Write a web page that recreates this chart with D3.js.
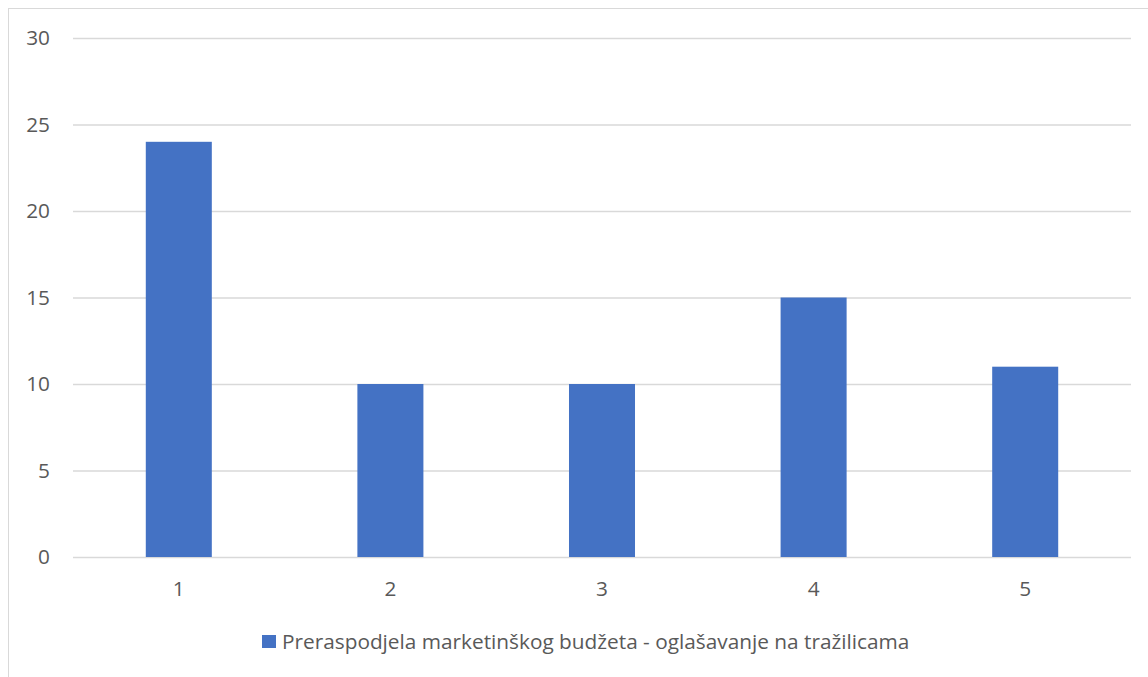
<!DOCTYPE html>
<html>
<head>
<meta charset="utf-8">
<script src="https://cdn.jsdelivr.net/npm/d3@7"></script>
<style>
  body { margin: 0; background: #fff; }
  svg text { font-family: 'Open Sans', sans-serif; fill: #595959; }
</style>
</head>
<body>
<div id="chart"></div>
<script>
// Data
const categories = ['1', '2', '3', '4', '5'];
const values = [24, 10, 10, 15, 11];
const yTicks = [0, 5, 10, 15, 20, 25, 30];
const seriesName = 'Preraspodjela marketinškog budžeta - oglašavanje na tražilicama';

const W = 1148, H = 677;
const plotLeft = 73, plotRight = 1131, plotTop = 38, plotBottom = 557;
const fontSize = '20.8px';

let svg = d3.select('#chart')
    .append('svg')
    .attr('width', W)
    .attr('height', H);

// Chart frame
svg.append('rect')
    .attr('x', 8.5).attr('y', 8.5)
    .attr('width', W).attr('height', H)
    .attr('fill', 'none')
    .attr('stroke', '#d9d9d9')
    .attr('stroke-width', 1);

let xScale = d3.scaleBand()
    .domain(categories)
    .range([plotLeft, plotRight])
    .paddingInner(0.688)
    .paddingOuter(0.344);

let yScale = d3.scaleLinear()
    .domain([0, 30])
    .range([plotBottom, plotTop]);

// Gridlines
svg.append('g')
    .attr('transform', `translate(${plotLeft},0)`)
    .call(d3.axisLeft(yScale).tickValues(yTicks).tickSize(-(plotRight - plotLeft)).tickFormat(''))
    .call(g => g.select('.domain').remove())
    .call(g => g.selectAll('line').attr('stroke', '#d9d9d9').attr('stroke-width', 1.3));

// Y labels
svg.append('g')
    .selectAll('text')
    .data(yTicks)
    .join('text')
    .attr('x', 50)
    .attr('y', d => yScale(d))
    .attr('dy', '0.35em')
    .attr('text-anchor', 'end')
    .attr('font-size', fontSize)
    .text(d => d);

// Bars
svg.append('g')
    .selectAll('rect')
    .data(values)
    .join('rect')
    .attr('x', (d, i) => xScale(categories[i]))
    .attr('y', d => yScale(d))
    .attr('width', xScale.bandwidth())
    .attr('height', d => yScale(0) - yScale(d))
    .attr('fill', '#4472c4');

// X labels
svg.append('g')
    .selectAll('text')
    .data(categories)
    .join('text')
    .attr('x', d => xScale(d) + xScale.bandwidth() / 2)
    .attr('y', 596)
    .attr('text-anchor', 'middle')
    .attr('font-size', fontSize)
    .text(d => d);

// Legend
svg.append('rect')
    .attr('x', 262).attr('y', 635)
    .attr('width', 14).attr('height', 13)
    .attr('fill', '#4472c4');

svg.append('text')
    .attr('x', 282)
    .attr('y', 649)
    .attr('font-size', fontSize)
    .text(seriesName);
</script>
</body>
</html>
